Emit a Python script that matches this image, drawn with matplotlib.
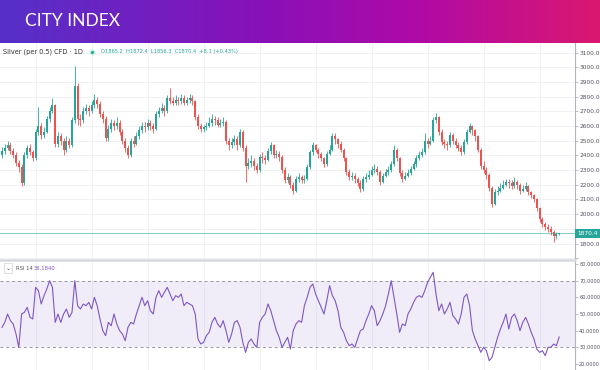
import numpy as np
import matplotlib
matplotlib.use("Agg")
import matplotlib.pyplot as plt
from matplotlib.colors import LinearSegmentedColormap
from matplotlib.lines import Line2D

# ---------------- data ----------------
title = "CITY INDEX"
symbol = "Silver (per 0.5) CFD · 1D"
ohlc_text = "O1865.2  H1872.4  L1856.3  C1870.4  +8.1 (+0.43%)"
rsi_label = "RSI 14"
rsi_value_text = "36.1840"
last_price = 1870.4
first_open = 2400

close = [2430, 2450, 2470, 2430, 2400, 2350, 2320, 2210, 2400, 2450,
         2420, 2380, 2560, 2600, 2540, 2560, 2650, 2700, 2740, 2480,
         2530, 2500, 2440, 2500, 2470, 2640, 2870, 2650, 2640, 2700,
         2720, 2700, 2740, 2780, 2750, 2680, 2650, 2520, 2580, 2620,
         2600, 2620, 2560, 2500, 2450, 2400, 2500, 2480, 2530, 2570,
         2600, 2590, 2620, 2600, 2580, 2680, 2700, 2720, 2700, 2790,
         2770, 2760, 2780, 2770, 2790, 2760, 2780, 2790, 2770, 2660,
         2600, 2580, 2590, 2600, 2620, 2650, 2640, 2610, 2620, 2630,
         2500, 2470, 2490, 2510, 2470, 2560, 2450, 2330, 2350, 2360,
         2330, 2300, 2390, 2380, 2370, 2430, 2470, 2400, 2410, 2390,
         2300, 2230, 2250, 2200, 2160, 2240, 2250, 2230, 2240, 2320,
         2420, 2470, 2440, 2410, 2380, 2340, 2410, 2440, 2530, 2510,
         2480, 2440, 2380, 2290, 2250, 2260, 2240, 2210, 2170, 2240,
         2250, 2270, 2300, 2310, 2290, 2220, 2260, 2290, 2300, 2340,
         2440, 2380, 2280, 2240, 2260, 2280, 2310, 2340, 2380, 2400,
         2420, 2500, 2480, 2500, 2640, 2660, 2560, 2490, 2480, 2470,
         2540, 2500, 2470, 2450, 2420, 2490, 2560, 2600, 2570, 2530,
         2440, 2330, 2300, 2270, 2180, 2070, 2150, 2160, 2180, 2200,
         2220, 2210, 2190, 2220, 2200, 2160, 2170, 2190, 2150, 2130,
         2100, 2040, 1970, 1930, 1910, 1900, 1880, 1850, 1862.3, 1870.4]

high = [2460, 2480, 2500, 2490, 2450, 2420, 2370, 2340, 2420, 2470,
        2480, 2440, 2580, 2730, 2620, 2590, 2670, 2730, 2790, 2750,
        2560, 2550, 2520, 2530, 2520, 2660, 3010, 2890, 2680, 2730,
        2750, 2740, 2770, 2820, 2800, 2770, 2700, 2670, 2610, 2650,
        2640, 2660, 2640, 2580, 2520, 2470, 2520, 2530, 2560, 2600,
        2630, 2630, 2650, 2640, 2620, 2700, 2730, 2760, 2740, 2810,
        2860, 2800, 2810, 2800, 2820, 2810, 2800, 2820, 2810, 2780,
        2680, 2620, 2610, 2630, 2660, 2680, 2670, 2660, 2650, 2660,
        2640, 2520, 2520, 2540, 2530, 2580, 2570, 2470, 2380, 2400,
        2380, 2350, 2410, 2420, 2400, 2450, 2490, 2480, 2440, 2430,
        2400, 2320, 2280, 2270, 2220, 2260, 2280, 2270, 2270, 2340,
        2440, 2490, 2480, 2450, 2420, 2390, 2430, 2470, 2550, 2550,
        2520, 2500, 2450, 2390, 2310, 2290, 2280, 2250, 2230, 2260,
        2280, 2300, 2330, 2340, 2330, 2300, 2280, 2310, 2330, 2360,
        2470, 2450, 2390, 2300, 2290, 2310, 2330, 2360, 2400, 2430,
        2450, 2550, 2520, 2530, 2660, 2690, 2670, 2580, 2510, 2500,
        2560, 2550, 2520, 2490, 2470, 2510, 2580, 2620, 2610, 2580,
        2540, 2450, 2360, 2320, 2280, 2190, 2170, 2190, 2210, 2230,
        2240, 2240, 2230, 2250, 2230, 2210, 2200, 2220, 2200, 2160,
        2140, 2110, 2050, 1980, 1950, 1930, 1920, 1890, 1880, 1872.4]

low = [2380, 2410, 2440, 2410, 2380, 2330, 2290, 2190, 2200, 2380,
       2400, 2360, 2370, 2540, 2510, 2520, 2550, 2630, 2690, 2460,
       2460, 2470, 2400, 2420, 2450, 2460, 2620, 2610, 2600, 2620,
       2680, 2670, 2690, 2720, 2720, 2660, 2620, 2500, 2500, 2560,
       2570, 2580, 2540, 2480, 2420, 2380, 2390, 2460, 2470, 2510,
       2550, 2560, 2570, 2570, 2550, 2570, 2660, 2690, 2670, 2690,
       2750, 2740, 2740, 2740, 2750, 2740, 2740, 2760, 2740, 2640,
       2580, 2560, 2560, 2570, 2590, 2600, 2610, 2590, 2590, 2600,
       2480, 2440, 2450, 2470, 2440, 2460, 2430, 2220, 2310, 2320,
       2300, 2280, 2290, 2350, 2340, 2360, 2410, 2380, 2380, 2360,
       2280, 2210, 2210, 2180, 2140, 2150, 2220, 2210, 2210, 2230,
       2310, 2400, 2420, 2380, 2360, 2320, 2330, 2400, 2430, 2480,
       2450, 2420, 2360, 2270, 2230, 2230, 2210, 2190, 2150, 2160,
       2220, 2240, 2260, 2280, 2270, 2200, 2210, 2250, 2270, 2290,
       2330, 2360, 2260, 2220, 2230, 2250, 2270, 2300, 2320, 2370,
       2390, 2410, 2450, 2470, 2490, 2620, 2540, 2470, 2450, 2440,
       2460, 2480, 2450, 2430, 2400, 2410, 2480, 2550, 2540, 2500,
       2420, 2310, 2280, 2240, 2160, 2050, 2060, 2130, 2150, 2170,
       2190, 2180, 2170, 2180, 2170, 2140, 2150, 2160, 2130, 2110,
       2080, 2020, 1950, 1910, 1890, 1880, 1860, 1810, 1830, 1856.3]

rsi = [42, 45, 50, 46, 44, 38, 30, 50, 51, 54,
       48, 47, 66, 64, 56, 61, 65, 70, 66, 45,
       50, 45, 50, 53, 48, 51, 70, 55, 53, 56,
       55, 57, 53, 60, 55, 47, 40, 37, 45, 43,
       50, 44, 40, 38, 34, 42, 45, 44, 50, 55,
       60, 55, 58, 52, 50, 60, 64, 60, 63, 66,
       62, 58, 61, 60, 62, 55, 57, 56, 55, 50,
       35, 32, 33, 37, 39, 45, 48, 44, 42, 46,
       40, 33, 38, 45, 46, 42, 33, 27, 33, 35,
       32, 30, 45, 48, 50, 56, 52, 46, 40, 36,
       30, 33, 36, 29, 40, 44, 46, 45, 55, 60,
       66, 68, 62, 58, 54, 50, 58, 67, 61, 58,
       52, 42, 39, 34, 31, 32, 30, 35, 40, 41,
       46, 50, 55, 52, 43, 46, 50, 55, 62, 70,
       60, 50, 39, 44, 43, 50, 53, 57, 60, 61,
       60, 64, 69, 72, 75, 62, 52, 56, 50, 53,
       57, 49, 47, 44, 50, 60, 62, 55, 40, 35,
       31, 27, 30, 28, 22, 24, 30, 36, 41, 45,
       50, 41, 48, 50, 46, 40, 45, 48, 44, 39,
       35, 29, 27, 28, 25, 30, 30, 32, 31, 36.184]

price_ticks = [1700, 1800, 1900, 2000, 2100, 2200, 2300, 2400, 2500, 2600,
               2700, 2800, 2900, 3000, 3100]
price_labels = ["", "1800.0", "", "2000.0", "2100.0", "2200.0", "2300.0", "2400.0",
                "2500.0", "2600.0", "2700.0", "2800.0", "2900.0", "3000.0", "3100.0"]
rsi_ticks = [20, 30, 40, 50, 60, 70, 80]
rsi_labels = ["20.0000", "30.0000", "40.0000", "50.0000", "60.0000", "70.0000", "80.0000"]

# ---------------- styling ----------------
UP = "#26a69a"
DOWN = "#ef5350"
RSI_C = "#7e57c2"
GRID = "#eef0f5"
TXT = "#50535e"

W, H = 600, 370
fig = plt.figure(figsize=(W / 100, H / 100), dpi=100)
fig.patch.set_facecolor("white")


def px_axes(x0, y0, w, h):
    return fig.add_axes([x0 / W, 1 - (y0 + h) / H, w / W, h / H])


# header
hax = px_axes(0, 0, 600, 43)
cmap = LinearSegmentedColormap.from_list(
    "hdr", [(0, "#5630c9"), (0.45, "#8a10b8"), (0.7, "#b00aa6"), (1.0, "#da1870")])
hax.imshow(np.linspace(0, 1, 256)[None, :], aspect="auto", cmap=cmap,
           extent=[0, 1, 0, 1])
hax.set_xlim(0, 1)
hax.set_ylim(0, 1)
hax.axis("off")
fig.text(25 / W, 1 - 21 / H, title, color="white", fontsize=12.5,
         family="Lato", va="center", ha="left")

# price pane
n = len(close)
idx = np.arange(n)
opens = np.array([first_open] + close[:-1], dtype=float)
c = np.array(close, dtype=float)
hi = np.array(high, dtype=float)
lo = np.array(low, dtype=float)
colors = np.where(c >= opens, UP, DOWN)

x_left = -2 / 2.8
x_right = (575 - 2) / 2.8

pax = px_axes(0, 43, 575, 216)
pax.set_xlim(x_left, x_right)
pax.set_ylim(1695, 3165)
pax.vlines(idx, lo, hi, colors=colors, linewidth=0.6, zorder=3)
body_h = np.maximum(np.abs(c - opens), 2.0)
pax.bar(idx, body_h, bottom=np.minimum(c, opens), width=0.7, color=colors,
        linewidth=0, zorder=4)
pax.axhline(last_price, color=UP, linewidth=0.8, alpha=0.55, zorder=2)

for s in ["left", "top", "bottom"]:
    pax.spines[s].set_visible(False)
pax.spines["right"].set_color("#b2b5be")
pax.spines["right"].set_linewidth(0.8)
pax.yaxis.tick_right()
pax.set_yticks(price_ticks)
pax.set_yticklabels(price_labels)
pax.tick_params(axis="y", length=2, width=0.6, color="#b2b5be", labelsize=4.2,
                labelcolor=TXT, pad=1.2)
pax.set_xticks([])
pax.grid(False)
for yv in price_ticks:
    pax.axhline(yv, color=GRID, linewidth=0.6, zorder=0)
vgrid = np.arange(12, n, 20)
for xv in vgrid:
    pax.axvline(xv, color=GRID, linewidth=0.6, zorder=0)

# last price tag
pax.text(1.0035, (last_price - 1695) / (3165 - 1695), f"{last_price:.1f}",
         transform=pax.transAxes, ha="left", va="center", fontsize=4.2,
         color="white", zorder=10, clip_on=False,
         bbox=dict(boxstyle="square,pad=0.35", facecolor=UP, edgecolor="none"))

# legend line of price pane
fig.text(3 / W, 1 - 52 / H, symbol, fontsize=4.7, color="#333333", va="center",
         ha="left", family="DejaVu Sans")
fig.add_artist(Line2D([92 / W], [1 - 52 / H], marker="o", markersize=4.5,
                      markerfacecolor="#cfeee9", markeredgecolor="none",
                      transform=fig.transFigure))
fig.add_artist(Line2D([92 / W], [1 - 52 / H], marker="o", markersize=2.2,
                      markerfacecolor=UP, markeredgecolor="none",
                      transform=fig.transFigure))
fig.text(101 / W, 1 - 52 / H, ohlc_text, fontsize=3.7, color=UP, va="center",
         ha="left", family="DejaVu Sans")

# separator between panes
fig.add_artist(Line2D([0, 575 / W], [1 - 260 / H, 1 - 260 / H], color="#d6d8de",
                      linewidth=1.8, transform=fig.transFigure))

# RSI pane
rax = px_axes(0, 261, 575, 109)
rax.set_xlim(x_left, x_right)
rax.set_ylim(16.4, 81.8)
rax.axhspan(30, 70, color=RSI_C, alpha=0.1, linewidth=0, zorder=1)
rax.axhline(70, color="#9598a1", linewidth=0.7, linestyle=(0, (3, 3)), zorder=2)
rax.axhline(30, color="#9598a1", linewidth=0.7, linestyle=(0, (3, 3)), zorder=2)
rax.plot(idx, rsi, color=RSI_C, linewidth=0.8, zorder=3)
for xv in vgrid:
    rax.axvline(xv, color=GRID, linewidth=0.6, zorder=0)
for s in ["left", "top", "bottom"]:
    rax.spines[s].set_visible(False)
rax.spines["right"].set_color("#b2b5be")
rax.spines["right"].set_linewidth(0.8)
rax.yaxis.tick_right()
rax.set_yticks(rsi_ticks)
rax.set_yticklabels(rsi_labels)
rax.tick_params(axis="y", length=2, width=0.6, color="#b2b5be", labelsize=3.6,
                labelcolor=TXT, pad=1.0)
rax.set_xticks([])

# RSI legend
fig.text(8 / W, 1 - 268 / H, "⌄", fontsize=4.2, color="#555555", va="center",
         ha="center", family="DejaVu Sans",
         bbox=dict(boxstyle="square,pad=0.35", facecolor="white",
                   edgecolor="#d0d3da", linewidth=0.5))
fig.text(16 / W, 1 - 268 / H, rsi_label, fontsize=3.8, color="#555555",
         va="center", ha="left", family="DejaVu Sans")
fig.text(34 / W, 1 - 268 / H, rsi_value_text, fontsize=3.8, color=RSI_C,
         va="center", ha="left", family="DejaVu Sans")

fig.savefig("out.png", dpi=100, facecolor="white")
